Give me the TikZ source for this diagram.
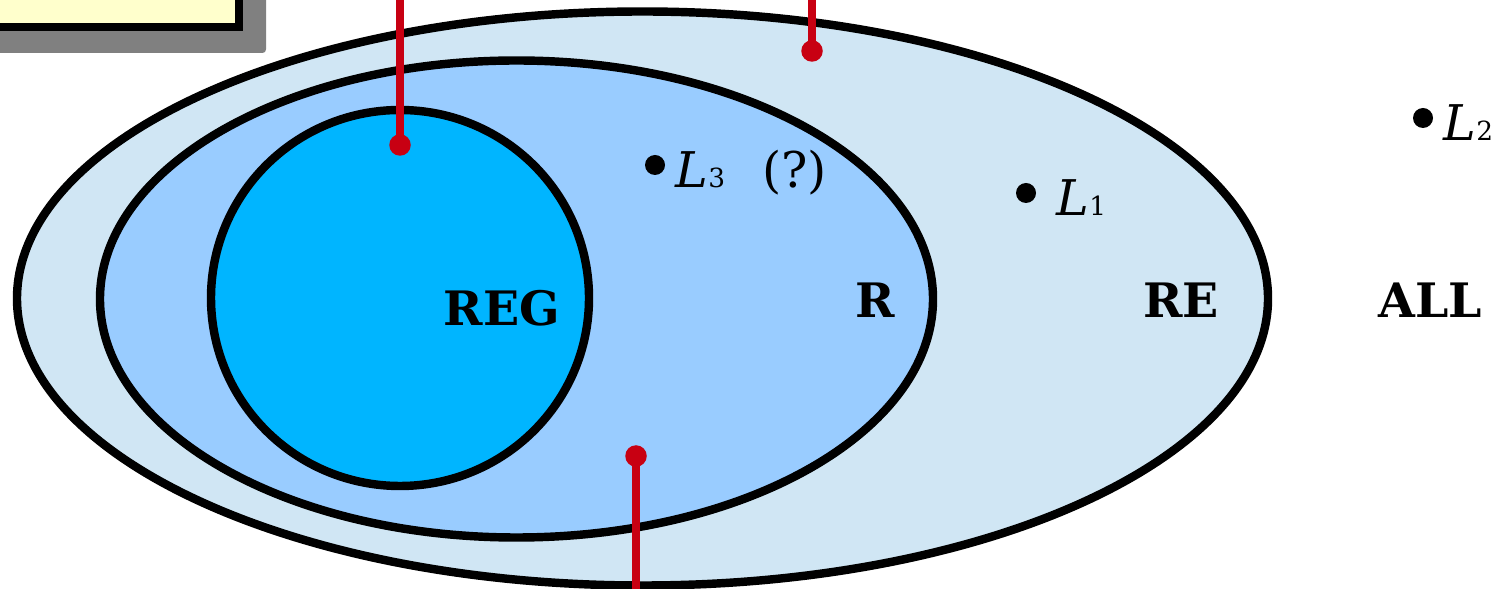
\documentclass[tikz,border=0pt]{standalone}
\usepackage{fontspec}
\setmainfont{DejaVu Serif}
\usepackage{tikz}
\usetikzlibrary{positioning}

\definecolor{refill}{RGB}{208,230,244}
\definecolor{rfill}{RGB}{153,204,255}
\definecolor{regfill}{RGB}{0,181,255}
\definecolor{pinred}{RGB}{200,0,18}
\definecolor{noteyellow}{RGB}{255,255,204}
\definecolor{notegray}{RGB}{128,128,128}

\newcommand{\subidx}[1]{{\fontsize{15}{17}\selectfont #1}}

\begin{document}
\begin{tikzpicture}[
    setline/.style={line width=4.8pt},
    pinline/.style={line width=4.4pt, draw=pinred},
    pinhead/.style={circle, fill=pinred, inner sep=0pt, minimum size=0.43cm},
    langdot/.style={circle, fill=black, inner sep=0pt, minimum size=0.4cm},
    classname/.style={font=\fontsize{27}{30}\selectfont\bfseries, anchor=base, inner sep=0pt},
    langname/.style={font=\fontsize{28}{31}\selectfont, inner sep=0pt, text height=26pt, text depth=0pt}]

    \clip (0,0) rectangle (30.2,11.78);

    % note box in the corner
    \fill[notegray, rounded corners=2pt] (-1,13) rectangle (5.32,10.72);
    \draw[setline, fill=noteyellow] (-1,13) rectangle (4.78,11.24);

    % the three sets
    \draw[setline, fill=refill] (12.85,5.81) ellipse [x radius=12.51, y radius=5.74];
    \draw[setline, fill=rfill] (10.33,5.80) ellipse [x radius=8.33, y radius=4.77];
    \draw[setline, fill=regfill] (8.0,5.82) ellipse [x radius=3.78, y radius=3.76];

    \node[classname] (reg) at (10.04,5.26) {REG};
    \node[classname] (r) at (17.5,5.42) {R};
    \node[classname] (re) at (23.62,5.42) {RE};
    \node[classname] (all) at (28.6,5.42) {ALL};

    % languages
    \node[langdot] (l3) at (13.1,8.48) {};
    \node[langdot] (l1) at (20.52,7.92) {};
    \node[langdot] (l2) at (28.46,9.42) {};
    \node[langname, right=0.2cm of l3] (l3name) {\textit{L}\subidx{3}\hspace{0.75em}(?)};
    \node[langname, right=0.4cm of l1] (l1name) {\textit{L}\subidx{1}};
    \node[langname, right=0.2cm of l2] (l2name) {\textit{L}\subidx{2}};

    % pins
    \coordinate (regtop) at (8.0,12.2);
    \coordinate (retop) at (16.24,12.2);
    \coordinate (rbottom) at (12.72,-0.4);
    \node[pinhead] (regpin) at (8.0,8.88) {};
    \node[pinhead] (repin) at (16.24,10.76) {};
    \node[pinhead] (rpin) at (12.72,2.66) {};
    \draw[pinline] (regtop) -- (regpin.center);
    \draw[pinline] (retop) -- (repin.center);
    \draw[pinline] (rbottom) -- (rpin.center);
\end{tikzpicture}
\end{document}
